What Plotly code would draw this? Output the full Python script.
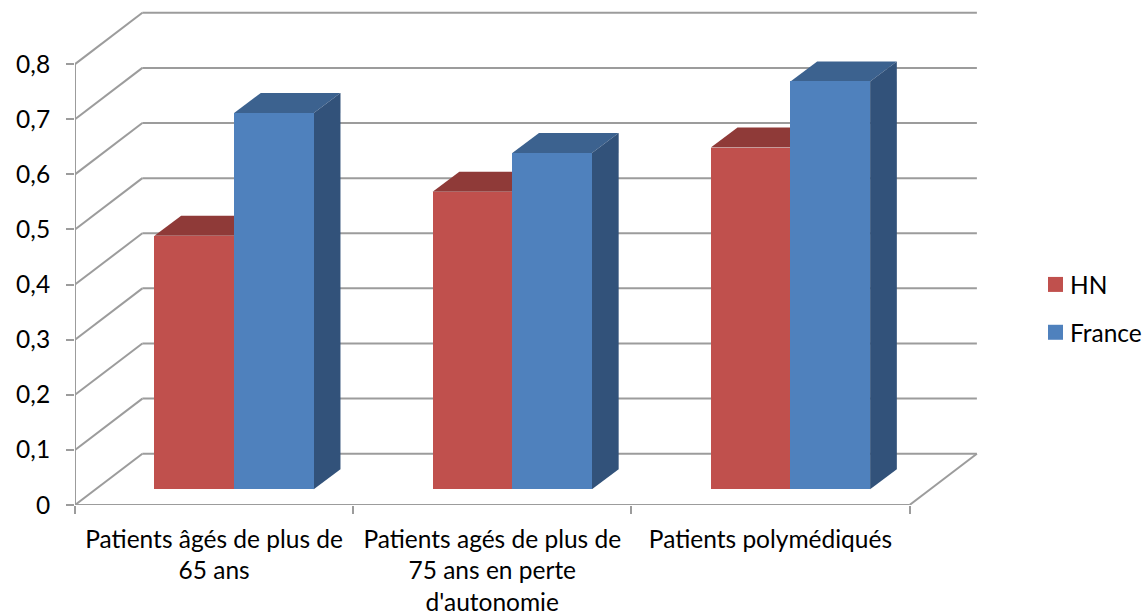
import plotly.graph_objects as go

# ---- data ----
categories = ["Patients âgés de plus de<br>65 ans",
              "Patients agés de plus de<br>75 ans en perte<br>d'autonomie",
              "Patients polymédiqués"]
hn_values = [0.46, 0.54, 0.62]
france_values = [0.683, 0.61, 0.74]
y_ticks = [0, 0.1, 0.2, 0.3, 0.4, 0.5, 0.6, 0.7, 0.8]
y_tick_labels = ["0", "0,1", "0,2", "0,3", "0,4", "0,5", "0,6", "0,7", "0,8"]

# ---- style and geometry ----
FONT = "Lato"
FS = 24.5
GRID = "#9C9C9C"
HN_FRONT, HN_TOP = "#C0504D", "#8F3A38"
FR_FRONT, FR_TOP, FR_SIDE = "#4F81BD", "#3C628F", "#32527A"

L, B = 75.3, 505.0          # pixel position of the axes origin
PX_CAT = 278.0              # pixels per category
PX_VAL = 551.0              # pixels per 1.0 of value
X_MAX, Y_MAX = 3.3, 0.9
W, H = 1143, 616

WALL_DX, WALL_DY = 67.3 / PX_CAT, 51.3 / PX_VAL     # depth of the chart box
BAR_DX, BAR_DY = 26.7 / PX_CAT, 20.0 / PX_VAL       # depth of a bar
BAR_BASE = 15.7 / PX_VAL                            # floor offset of the front faces
BAR_W = 79.6 / PX_CAT
BAR_SHIFT = 20.0 / PX_CAT


def line(x0, y0, x1, y1, color=GRID, width=2):
    return dict(type="line", layer="below", x0=x0, y0=y0, x1=x1, y1=y1,
                xref="x", yref="y", line=dict(color=color, width=width))


def poly(points, color):
    path = "M" + " L".join(f"{x},{y}" for x, y in points) + " Z"
    return dict(type="path", layer="below", path=path, xref="x", yref="y",
                fillcolor=color, line=dict(width=0))


n = len(categories)
shapes = []

# box: wall gridlines, floor, axis lines
for v in y_ticks:
    shapes.append(line(0, v, WALL_DX, v + WALL_DY))
    shapes.append(line(WALL_DX, v + WALL_DY, n + WALL_DX, v + WALL_DY))
shapes.append(line(n, 0, n + WALL_DX, WALL_DY))
shapes.append(line(0, 0, n, 0))
shapes.append(line(0, 0, 0, y_ticks[-1]))

# 3D faces of the bars
centers = [i + 0.5 + BAR_SHIFT for i in range(n)]
for c, h in zip(centers, hn_values):
    x0, x1, t = c - BAR_W, c, BAR_BASE + h
    shapes.append(poly([(x0, t), (x1, t), (x1 + BAR_DX, t + BAR_DY), (x0 + BAR_DX, t + BAR_DY)], HN_TOP))
for c, f in zip(centers, france_values):
    x0, x1, t = c, c + BAR_W, BAR_BASE + f
    shapes.append(poly([(x0, t), (x1, t), (x1 + BAR_DX, t + BAR_DY), (x0 + BAR_DX, t + BAR_DY)], FR_TOP))
    shapes.append(poly([(x1, BAR_BASE), (x1 + BAR_DX, BAR_BASE + BAR_DY),
                        (x1 + BAR_DX, t + BAR_DY), (x1, t)], FR_SIDE))

fig = go.Figure()
fig.add_trace(go.Bar(name="HN", x=centers, y=hn_values, base=BAR_BASE, width=BAR_W, offset=-BAR_W,
                     marker=dict(color=HN_FRONT, line=dict(width=0)), legendgroup="hn"))
fig.add_trace(go.Bar(name="France", x=centers, y=france_values, base=BAR_BASE, width=BAR_W, offset=0,
                     marker=dict(color=FR_FRONT, line=dict(width=0)), legendgroup="fr"))

fig.update_layout(
    width=W, height=H, autosize=False,
    paper_bgcolor="white", plot_bgcolor="white",
    margin=dict(l=L, r=W - L - X_MAX * PX_CAT, b=H - B, t=B - Y_MAX * PX_VAL, pad=0, autoexpand=False),
    barmode="overlay", bargap=0,
    font=dict(family=FONT, size=FS, color="#000000"),
    shapes=shapes,
    xaxis=dict(range=[0, X_MAX], showgrid=False, zeroline=False, showline=False,
               tickmode="array", tickvals=[i + 0.5 for i in range(n)], ticktext=categories,
               ticks="", tickangle=0, ticklabelstandoff=17, automargin=False,
               minor=dict(tickmode="array", tickvals=list(range(n + 1)), ticks="outside",
                          ticklen=8, tickwidth=2, tickcolor=GRID, showgrid=False)),
    yaxis=dict(range=[0, Y_MAX], showgrid=False, zeroline=False, showline=False,
               tickmode="array", tickvals=y_ticks, ticktext=y_tick_labels,
               ticks="outside", ticklen=8, tickwidth=2, tickcolor=GRID,
               ticklabelstandoff=11, automargin=False),
    legend=dict(xref="container", yref="container", x=1030 / W, y=1 - 262 / H,
                xanchor="left", yanchor="top", tracegroupgap=13, bgcolor="rgba(0,0,0,0)",
                font=dict(family=FONT, size=FS), traceorder="grouped"),
)

post = ("document.body.style.margin='0';document.body.style.overflow='hidden';"
        "document.querySelectorAll('.legendpoints path').forEach(function(p){"
        "p.style.transform='translate(25.5px,0) scale(1.25)';});")
fig.write_html("out.html", post_script=post, config=dict(displayModeBar=False))
